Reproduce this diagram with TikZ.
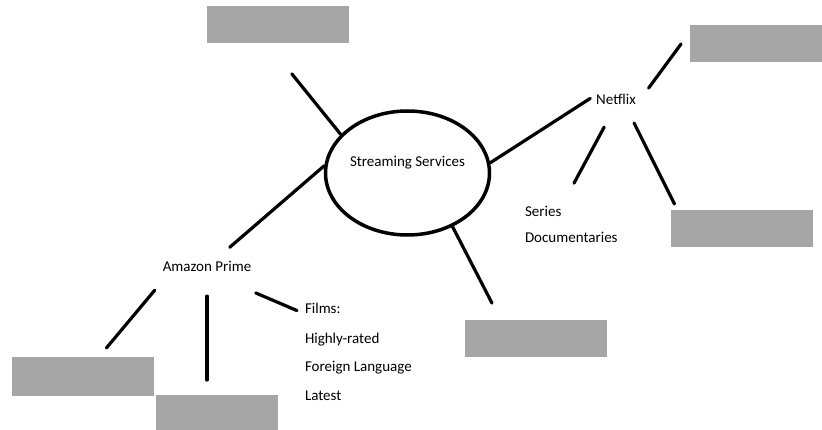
\documentclass[tikz,border=0pt]{standalone}
\usepackage{fontspec}
\setmainfont{Carlito}
\usepackage{xcolor}
\usetikzlibrary{positioning,shapes.geometric}
\colorlet{boxGray}{black!35}

\begin{document}
\begin{tikzpicture}[
    x=1pt, y=-1pt,
    font=\fontsize{15}{18}\selectfont,
    lbl/.style={inner sep=0pt, outer sep=0pt},
    hub/.style={ellipse, draw, line width=3.5pt, minimum width=164pt,
      minimum height=124pt, inner sep=0pt, text height=10.5pt, text depth=24pt},
    blank/.style={fill=boxGray, inner sep=0pt, outer sep=0pt,
      minimum width=142pt, minimum height=37pt},
    link/.style={line width=3.2pt, line cap=round},
  ]
  \useasboundingbox (0,0) rectangle (822,430);

  % centre
  \node[hub] (ss) at (407.5,173) {Streaming Services};

  % labels
  \node[lbl, anchor=base] (amazon) at (207,272) {Amazon Prime};
  \node[lbl, anchor=base] (netflix) at (616,105) {Netflix};
  \node[lbl, anchor=base west] (films) at (305,314) {Films:};
  \node[lbl, anchor=base west] (rated) at ([yshift=-29pt]films.base west) {Highly-rated};
  \node[lbl, anchor=base west] (foreign) at ([yshift=-28pt]rated.base west) {Foreign Language};
  \node[lbl, anchor=base west] (latest) at ([yshift=-29pt]foreign.base west) {Latest};
  \node[lbl, anchor=base west] (series) at (525,217) {Series};
  \node[lbl, anchor=base west] (docs) at ([yshift=-26pt]series.base west) {Documentaries};

  % grey boxes
  \node[blank] (top) at (278,25) {};
  \node[blank, minimum width=132pt] (trbox) at (756,43.5) {};
  \node[blank] (rbox) at (742,228.5) {};
  \node[blank] (bbox) at (535.5,338.5) {};
  \node[blank, minimum height=39pt] (lbox) at (82.5,376.5) {};
  \node[blank, minimum width=122pt, minimum height=35pt] (mbox) at (217,412.5) {};

  % branches
  \draw[link, shorten >=39pt] (ss.150) -- (top.-120);
  \draw[link, shorten >=22pt] (ss.175) -- (amazon);
  \draw[link, shorten >=7pt] (ss.7) -- (netflix.north west);
  \draw[link, shorten >=19pt] (ss.-50) -- (bbox.152);

  \draw[link, shorten <=23.5pt, shorten >=11.7pt] (amazon.-172) -- (lbox.50);
  \draw[link, shorten <=24pt, shorten >=15pt] (amazon.south) -- (amazon.south |- mbox.north);
  \draw[link, shorten <=53pt, shorten >=8.7pt] (amazon.south) -- (films.base west);

  \draw[link, shorten <=8pt, shorten >=15pt] ([xshift=8pt]netflix.north east) -- (trbox.170);
  \draw[link, shorten <=25pt, shorten >=26.7pt] (netflix.south) -- (series.north east);
  \draw[link, shorten <=20pt, shorten >=6.7pt] (netflix.-30) -- (rbox.164);
\end{tikzpicture}
\end{document}
